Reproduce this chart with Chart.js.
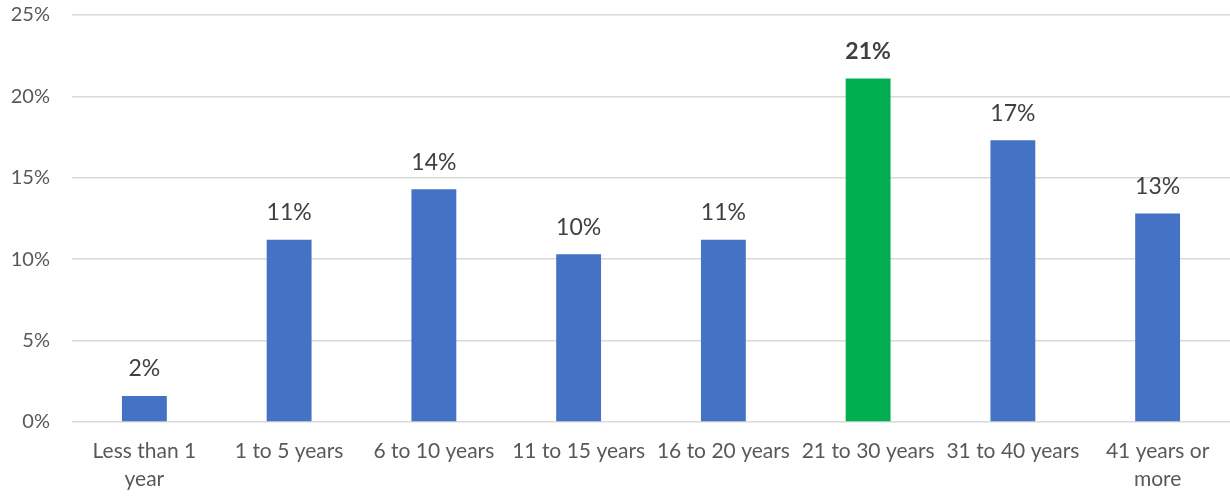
<!DOCTYPE html>
<html>
<head>
<meta charset="utf-8">
<script src="https://cdn.jsdelivr.net/npm/chart.js@4/dist/chart.umd.min.js"></script>
<style>
  html, body { margin: 0; padding: 0; background: #ffffff; }
  #wrap { width: 1230px; height: 496px; }
</style>
</head>
<body>
<div id="wrap"><canvas id="grafico"></canvas></div>
<script>
const categorias = [
    ['Less than 1', 'year'],
    '1 to 5 years',
    '6 to 10 years',
    '11 to 15 years',
    '16 to 20 years',
    '21 to 30 years',
    '31 to 40 years',
    ['41 years or', 'more']
];
const porcentagens = [1.6, 11.2, 14.3, 10.3, 11.2, 21.1, 17.3, 12.8];
const destaque = 5; // index of the highlighted bar
const ticksY = [0, 5, 10, 15, 20, 25];

const fonte = 'Lato, "Open Sans", sans-serif';
const azul = '#4472C4';
const verde = '#00B050';

const cores = porcentagens.map((v, i) => i === destaque ? verde : azul);

// draws the value above each bar
const rotulosBarras = {
    id: 'rotulosBarras',
    afterDatasetsDraw(chart) {
        const ctx = chart.ctx;
        const meta = chart.getDatasetMeta(0);
        ctx.save();
        ctx.textAlign = 'center';
        ctx.textBaseline = 'middle';
        meta.data.forEach((bar, i) => {
            const valor = chart.data.datasets[0].data[i];
            ctx.fillStyle = '#404040';
            ctx.font = (i === destaque ? 'bold ' : '') + '23px ' + fonte;
            ctx.fillText(Math.round(valor) + '%', bar.x, bar.y - 27);
        });
        ctx.restore();
    }
};

new Chart(document.getElementById('grafico'), {
    type: 'bar',
    data: {
        labels: categorias,
        datasets: [{
            data: porcentagens,
            backgroundColor: cores,
            borderWidth: 0,
            categoryPercentage: 1,
            barPercentage: 0.31
        }]
    },
    options: {
        responsive: true,
        maintainAspectRatio: false,
        animation: false,
        events: [],
        layout: { padding: { top: 15, right: 0, left: 0, bottom: 0 } },
        plugins: {
            legend: { display: false },
            tooltip: { enabled: false }
        },
        scales: {
            x: {
                grid: { display: false },
                border: { display: false },
                ticks: {
                    color: '#595959',
                    font: { family: fonte, size: 21, lineHeight: 1.3 },
                    maxRotation: 0,
                    autoSkip: false,
                    padding: 8
                },
                afterFit(scale) {
                    scale.height = 74;
                    scale.paddingLeft = 0;
                    scale.paddingRight = 0;
                }
            },
            y: {
                min: 0,
                max: 25,
                afterBuildTicks(scale) {
                    scale.ticks = ticksY.map(v => ({ value: v }));
                },
                grid: { color: '#D9D9D9', lineWidth: 1.5, drawTicks: false },
                border: { display: false },
                ticks: {
                    color: '#595959',
                    font: { family: fonte, size: 20 },
                    padding: 22,
                    callback: v => v + '%'
                },
                afterFit(scale) {
                    scale.width = 72;
                    scale.paddingTop = 0;
                    scale.paddingBottom = 0;
                }
            }
        }
    },
    plugins: [rotulosBarras]
});
</script>
</body>
</html>
